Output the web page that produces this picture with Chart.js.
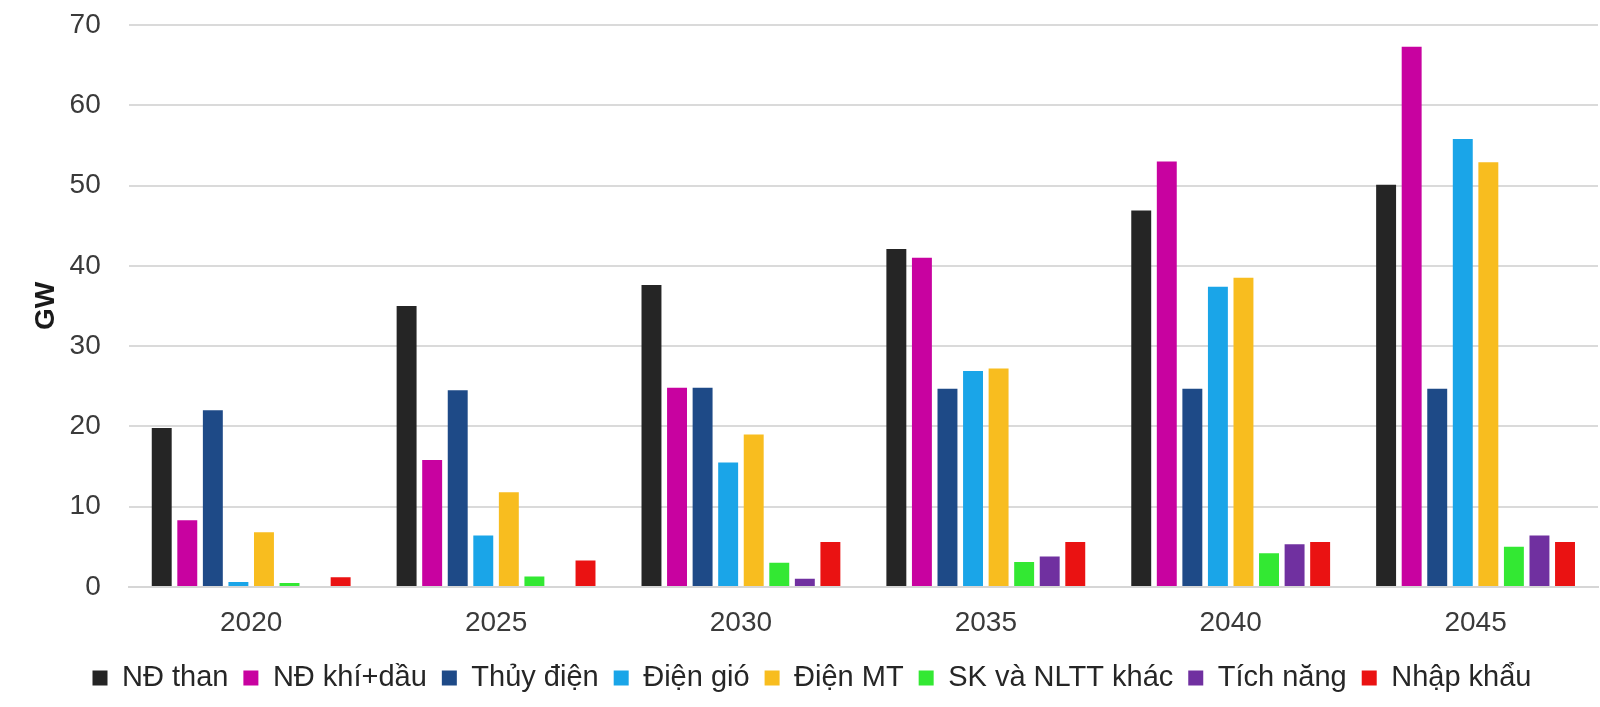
<!DOCTYPE html>
<html>
<head>
<meta charset="utf-8">
<script src="https://cdn.jsdelivr.net/npm/chart.js@4"></script>
<style>
html,body{margin:0;padding:0;background:#fff;}
#wrap{width:1600px;height:707px;position:relative;}
</style>
</head>
<body>
<div id="wrap"><canvas id="c"></canvas></div>
<script>
const categories = ['2020','2025','2030','2035','2040','2045'];
const seriesNames = ['NĐ than','NĐ khí+dầu','Thủy điện','Điện gió','Điện MT','SK và NLTT khác','Tích năng','Nhập khẩu'];
const ndThan    = [19.8, 35.0, 37.6, 42.1, 46.9, 50.1];
const ndKhiDau  = [8.3, 15.8, 24.8, 41.0, 53.0, 67.3];
const thuyDien  = [22.0, 24.5, 24.8, 24.7, 24.7, 24.7];
const dienGio   = [0.6, 6.4, 15.5, 26.9, 37.4, 55.8];
const dienMT    = [6.8, 11.8, 19.0, 27.2, 38.5, 52.9];
const skNltt    = [0.5, 1.3, 3.0, 3.1, 4.2, 5.0];
const tichNang  = [0, 0, 1.0, 3.8, 5.3, 6.4];
const nhapKhau  = [1.2, 3.3, 5.6, 5.6, 5.6, 5.6];
const yTicks = [0,10,20,30,40,50,60,70];

const colors = ['#252525','#c802a0','#1e4a87','#1aa5e8','#f8bd1f','#33e833','#7030a0','#ea1212'];
const allData = [ndThan, ndKhiDau, thuyDien, dienGio, dienMT, skNltt, tichNang, nhapKhau];

const FONT = '"Liberation Sans", Arial, sans-serif';

new Chart(document.getElementById('c'), {
  type: 'bar',
  data: {
    labels: categories,
    datasets: allData.map((d, i) => ({
      label: seriesNames[i],
      data: d,
      backgroundColor: colors[i],
      borderWidth: 0,
      categoryPercentage: 0.835,
      barPercentage: 0.78
    }))
  },
  options: {
    responsive: true,
    maintainAspectRatio: false,
    animation: false,
    layout: { padding: { left: 26, right: 2, top: 25, bottom: 4.5 } },
    plugins: {
      legend: {
        position: 'bottom',
        labels: {
          font: { family: FONT, size: 29 },
          color: '#262626',
          boxWidth: 15,
          boxHeight: 15,
          padding: 15
        }
      },
      tooltip: { enabled: false }
    },
    scales: {
      x: {
        grid: { display: false, drawTicks: true, tickLength: 12, tickColor: 'rgba(0,0,0,0)' },
        border: { display: true, color: '#d6d6d6', width: 2 },
        ticks: { font: { family: FONT, size: 28 }, color: '#3a3a3a', padding: 8 }
      },
      y: {
        min: 0, max: 70,
        afterBuildTicks: (axis) => { axis.ticks = yTicks.map(v => ({ value: v })); },
        grid: { color: '#dadada', lineWidth: 2, drawTicks: true, tickLength: 25, tickColor: 'rgba(0,0,0,0)' },
        border: { display: false },
        ticks: { font: { family: FONT, size: 28 }, color: '#3a3a3a', padding: 3 },
        title: { display: true, text: 'GW', font: { family: FONT, size: 28, weight: 'bold' }, color: '#1a1a1a', padding: { top: 3, bottom: 4 } }
      }
    }
  }
});
</script>
</body>
</html>
